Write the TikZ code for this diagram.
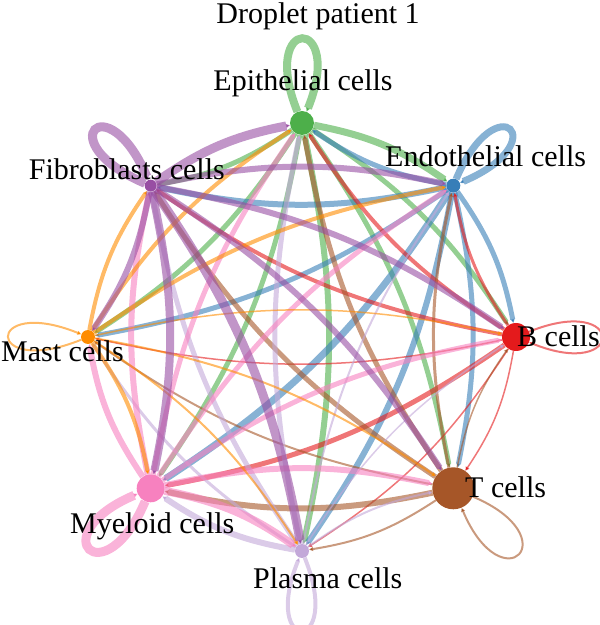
\documentclass[tikz,border=0pt]{standalone}
\usepackage{fontspec}
\setmainfont{Liberation Serif}
\usetikzlibrary{arrows.meta, backgrounds}
\definecolor{my_green}{HTML}{4DAF4A}
\definecolor{my_blue}{HTML}{377EB8}
\definecolor{my_red}{HTML}{E41A1C}
\definecolor{my_brown}{HTML}{A65628}
\definecolor{my_lilac}{HTML}{C3A8D9}
\definecolor{my_pink}{HTML}{F781BF}
\definecolor{my_orange}{HTML}{FF8C00}
\definecolor{my_purple}{HTML}{984EA3}

\begin{document}
\begin{tikzpicture}[
    x=1pt, y=1pt,
    cellnode/.style={circle, inner sep=0pt, minimum size=#1},
    celllabel/.style={font=\fontsize{30}{36}\selectfont, inner sep=0pt},
    link/.style={draw opacity=0.6, bend left=12, -{Triangle[length=4pt, width=4pt]}},
    selfloop/.style={draw opacity=0.6, distance=105pt, -{Triangle[length=4pt, width=4pt]}}
]
\useasboundingbox (0, 0) rectangle (600, 625);

%% ---- Zellgruppen (Kreis um (302, 288), Radius 214) ----
\node[cellnode=24pt, fill=my_green]  (epi)     at (302.0, 502.0) {};
\node[cellnode=14pt, fill=my_blue]   (endo)    at (453.3, 439.3) {};
\node[cellnode=28pt, fill=my_red]    (bcell)   at (516.0, 288.0) {};
\node[cellnode=42pt, fill=my_brown]  (tcell)   at (453.3, 136.7) {};
\node[cellnode=14pt, fill=my_lilac]  (plasma)  at (302.0,  74.0) {};
\node[cellnode=28pt, fill=my_pink]   (myeloid) at (150.7, 136.7) {};
\node[cellnode=14pt, fill=my_orange] (mast)    at ( 88.0, 288.0) {};
\node[cellnode=12pt, fill=my_purple] (fibro)   at (150.7, 439.3) {};

%% ---- Beschriftungen ----
\node[celllabel, anchor=base]      (title)         at (318, 601) {Droplet patient 1};
\node[celllabel, anchor=base]      (epi_label)     at (303, 534) {Epithelial cells};
\node[celllabel, anchor=base west] (endo_label)    at (385, 458) {Endothelial cells};
\node[celllabel, anchor=base west] (bcell_label)   at (517, 278) {B cells};
\node[celllabel, anchor=base west] (tcell_label)   at (465, 127) {T cells};
\node[celllabel, anchor=base west] (plasma_label)  at (253,  37) {Plasma cells};
\node[celllabel, anchor=base west] (myeloid_label) at ( 70,  91) {Myeloid cells};
\node[celllabel, anchor=base west] (mast_label)    at (  1, 263) {Mast cells};
\node[celllabel, anchor=base east] (fibro_label)   at (225, 445) {Fibroblasts cells};

\begin{scope}[on background layer]

%% ---- Schleifen (Signale an die eigene Gruppe) ----
\foreach \cell/\ang/\col/\w in {epi/90/my_green/8pt, endo/45/my_blue/7pt,
        bcell/0/my_red/2pt, tcell/-45/my_brown/2pt, plasma/-90/my_lilac/4pt,
        myeloid/-135/my_pink/9pt, mast/180/my_orange/2pt, fibro/135/my_purple/9pt} {
    \pgfmathsetmacro{\aout}{\ang+22}
    \pgfmathsetmacro{\ain}{\ang-22}
    \draw[selfloop, draw=\col, line width=\w] (\cell) to[out=\aout, in=\ain] (\cell);
}

%% ---- Epithelial cells ----
\foreach \dst/\w in {endo/7pt, bcell/5pt, tcell/5pt, plasma/6pt, myeloid/5pt, mast/5pt, fibro/5pt}
    \draw[link, draw=my_green, line width=\w] (epi) to (\dst);

%% ---- Endothelial cells ----
\foreach \dst/\w in {epi/5pt, bcell/5pt, tcell/5pt, plasma/6pt, myeloid/7pt, mast/5pt, fibro/6pt}
    \draw[link, draw=my_blue, line width=\w] (endo) to (\dst);

%% ---- B cells ----
\foreach \dst/\w in {epi/4pt, endo/3pt, tcell/1.5pt, plasma/1.5pt, myeloid/5pt, mast/1.5pt, fibro/4pt}
    \draw[link, draw=my_red, line width=\w] (bcell) to (\dst);

%% ---- T cells ----
\foreach \dst/\w in {epi/5pt, endo/3pt, bcell/1.5pt, plasma/2pt, myeloid/6pt, mast/2pt, fibro/5pt}
    \draw[link, draw=my_brown, line width=\w] (tcell) to (\dst);

%% ---- Plasma cells ----
\foreach \dst/\w in {epi/5pt, endo/2pt, bcell/1.5pt, tcell/2pt, myeloid/6pt, mast/3pt, fibro/5pt}
    \draw[link, draw=my_lilac, line width=\w] (plasma) to (\dst);

%% ---- Myeloid cells ----
\foreach \dst/\w in {epi/5pt, endo/5pt, bcell/5pt, tcell/6pt, plasma/8pt, mast/6pt, fibro/6pt}
    \draw[link, draw=my_pink, line width=\w] (myeloid) to (\dst);

%% ---- Mast cells ----
\foreach \dst/\w in {epi/4pt, endo/4pt, bcell/1.5pt, tcell/2pt, plasma/2pt, myeloid/4pt, fibro/4pt}
    \draw[link, draw=my_orange, line width=\w] (mast) to (\dst);

%% ---- Fibroblasts cells ----
\foreach \dst/\w in {epi/9pt, endo/6pt, bcell/6pt, tcell/6pt, plasma/9pt, myeloid/8pt, mast/6pt}
    \draw[link, draw=my_purple, line width=\w] (fibro) to (\dst);

\end{scope}

\end{tikzpicture}
\end{document}
